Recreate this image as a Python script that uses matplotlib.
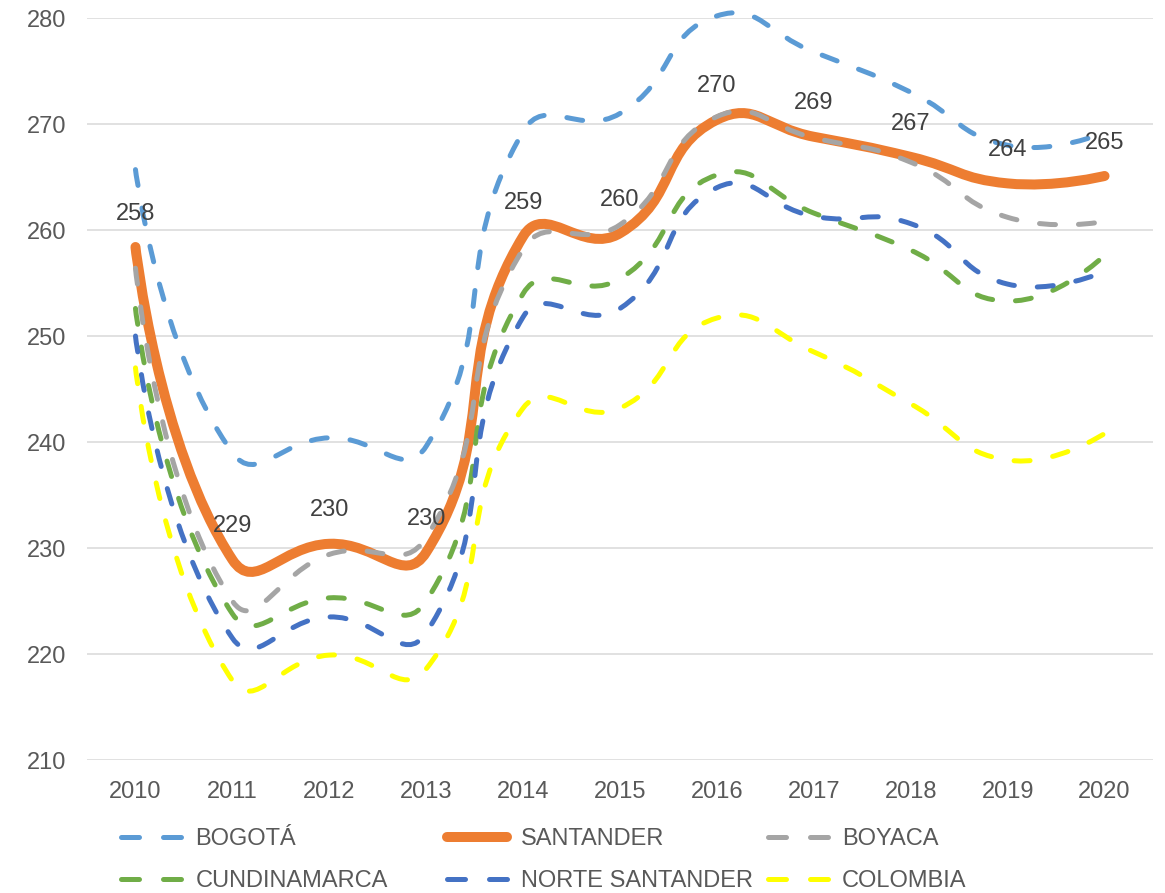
import matplotlib
matplotlib.use('Agg')
import matplotlib.pyplot as plt
from matplotlib.path import Path
from matplotlib.patches import PathPatch
from matplotlib.lines import Line2D
import numpy as np

plt.rcParams['font.family'] = ['Liberation Sans', 'DejaVu Sans']

years = ['2010', '2011', '2012', '2013', '2014', '2015', '2016', '2017', '2018', '2019', '2020']
bogota = [265.7, 239.0, 240.4, 239.6, 269.3, 271.0, 280.2, 276.8, 273.0, 268.0, 269.2]
santander = [258.4, 228.9, 230.4, 229.6, 259.4, 259.7, 270.4, 268.8, 266.9, 264.4, 265.1]
boyaca = [256.4, 225.0, 229.4, 231.0, 258.2, 260.5, 270.7, 268.7, 266.4, 261.2, 260.8]
cundinamarca = [252.6, 223.8, 225.3, 225.0, 254.0, 255.4, 265.2, 261.6, 258.1, 253.3, 257.6]
norte_santander = [250.0, 221.5, 223.5, 222.0, 251.8, 252.6, 264.0, 261.3, 260.6, 254.9, 256.1]
colombia = [247.0, 217.5, 219.9, 218.6, 243.2, 243.2, 251.7, 248.5, 243.6, 238.3, 240.8]

fig = plt.figure(figsize=(11.65, 8.93), dpi=100)
ax = fig.add_axes([0.0747, 0.1489, 0.9150, 0.8309])
ax.set_xlim(-0.5, 10.5)
ax.set_ylim(210, 280)
ax.set_yticks(range(210, 281, 10))
ax.set_xticks(range(len(years)))
ax.set_xticklabels(years)
ax.grid(axis='y', color='#D9D9D9', lw=1.1)
ax.set_axisbelow(True)
for s in ax.spines.values():
    s.set_visible(False)
ax.tick_params(axis='both', length=0, labelsize=17, colors='#595959')
ax.tick_params(axis='y', pad=15)
ax.tick_params(axis='x', pad=15)


def smooth_path(values, t=0.5):
    # bezier curve through the points, like excel's "smoothed line"
    pts = np.column_stack([np.arange(len(values)), values]).astype(float)
    disp = ax.transData.transform(pts)
    n = len(pts)
    before = pts.copy()
    after = pts.copy()
    for i in range(1, n - 1):
        d01 = np.hypot(*(disp[i] - disp[i - 1]))
        d12 = np.hypot(*(disp[i + 1] - disp[i]))
        tang = pts[i + 1] - pts[i - 1]
        before[i] = pts[i] - tang * t * d01 / (d01 + d12)
        after[i] = pts[i] + tang * t * d12 / (d01 + d12)
    verts = [pts[0]]
    codes = [Path.MOVETO]
    for i in range(n - 1):
        verts += [after[i], before[i + 1], pts[i + 1]]
        codes += [Path.CURVE4] * 3
    return Path(verts, codes)


series = [
    ('BOGOTÁ', bogota, '#5B9BD5', 'dash'),
    ('SANTANDER', santander, '#ED7D31', 'solid'),
    ('BOYACA', boyaca, '#A5A5A5', 'dash'),
    ('CUNDINAMARCA', cundinamarca, '#70AD47', 'dash'),
    ('NORTE SANTANDER', norte_santander, '#4472C4', 'dash'),
    ('COLOMBIA', colombia, '#FFFF00', 'dash'),
]

handles = {}
for name, vals, color, style in series:
    if style == 'solid':
        lw = 7.2
        ls = '-'
    else:
        lw = 3.6
        ls = (0, (3.2, 4.6))
    patch = PathPatch(smooth_path(vals), facecolor='none', edgecolor=color, lw=lw,
                      linestyle=ls, capstyle='round', joinstyle='round', clip_on=False)
    ax.add_patch(patch)
    if style == 'solid':
        h = Line2D([], [], color=color, lw=lw, solid_capstyle='round')
    else:
        h = Line2D([], [], color=color, lw=lw, dashes=(3.6, 4.8), dash_capstyle='round')
    handles[name] = h

for i, v in enumerate(santander):
    ax.annotate(f'{v:.0f}', (i, v), xytext=(0, 24), textcoords='offset points',
                ha='center', va='center', fontsize=17, color='#404040')

columns = [(['BOGOTÁ', 'CUNDINAMARCA'], 0.104),
           (['SANTANDER', 'NORTE SANTANDER'], 0.3837),
           (['BOYACA', 'COLOMBIA'], 0.659)]
for names, x in columns:
    fig.legend([handles[n] for n in names], names, loc='center left',
               bbox_to_anchor=(x, 0.0370), frameon=False, fontsize=17,
               labelcolor='#595959', handlelength=2.54, handletextpad=0.6,
               labelspacing=0.85, borderpad=0, borderaxespad=0)

fig.savefig('out.png', dpi=100)
